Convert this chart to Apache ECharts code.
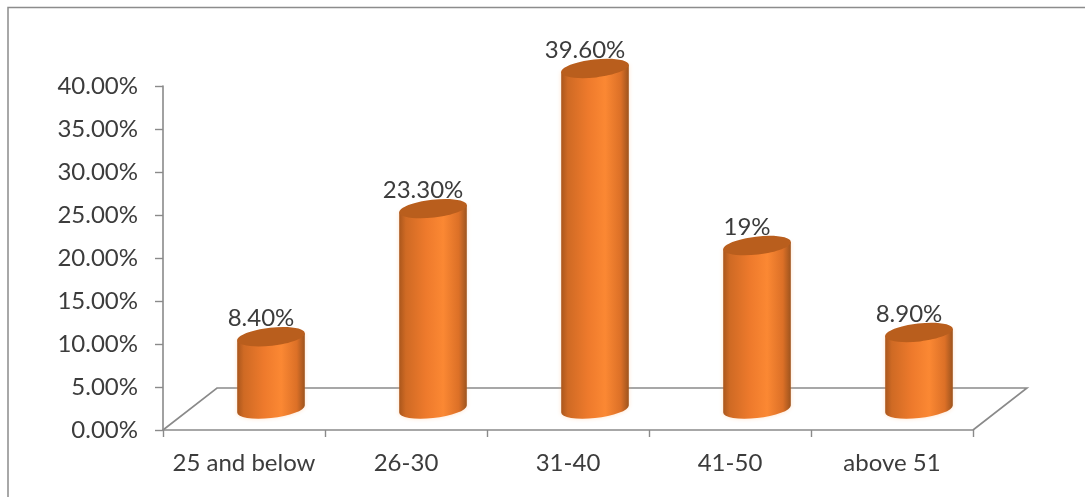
<!DOCTYPE html>
<html>
<head>
<meta charset="utf-8">
<style>html,body{margin:0;padding:0;background:#fff}#chart{width:1085px;height:497px}</style>
<script src="https://cdn.jsdelivr.net/npm/echarts@6/dist/echarts.min.js"></script>
</head>
<body>
<div id="chart"></div>
<script>
// Respondents by age group
const categories = ['25 and below', '26-30', '31-40', '41-50', 'above 51'];
const values = [8.4, 23.3, 39.6, 19, 8.9];
const valueLabels = ['8.40%', '23.30%', '39.60%', '19%', '8.90%'];

const chart = echarts.init(document.getElementById('chart'));
const FONT = 'Lato';
const TEXT = '#3c3c3c';
const AXIS = '#8a8a8a';
// Floor depth of the pseudo-3D plot
const DEPTH_X = 54, DEPTH_Y = 42;
// Cylinder end caps: tilted ellipses
const R_X = 34, R_Y = 9, TILT_DEG = 6.5;
const TILT = TILT_DEG * Math.PI / 180;
const EDGE_X = Math.sqrt(R_X * R_X * Math.cos(TILT) ** 2 + R_Y * R_Y * Math.sin(TILT) ** 2);
const EDGE_Y = (R_X * R_X - R_Y * R_Y) * Math.sin(TILT) * Math.cos(TILT) / EDGE_X;

function bodyGradient() {
  return new echarts.graphic.LinearGradient(0, 0, 1, 0, [
    { offset: 0, color: '#a9561c' },
    { offset: 0.1, color: '#cf6a24' },
    { offset: 0.4, color: '#ee7a2c' },
    { offset: 0.65, color: '#fb8833' },
    { offset: 0.88, color: '#dc7027' },
    { offset: 1, color: '#9c531d' }
  ]);
}

function renderCylinder(params, api) {
  const base = api.coord([api.value(0), 0]);
  const top = api.coord([api.value(0), api.value(1)]);
  const cx = base[0] + DEPTH_X / 2;
  const by = base[1] - DEPTH_Y / 2;
  const ty = top[1] - DEPTH_Y / 2;
  const body = `M${cx - EDGE_X} ${ty + EDGE_Y} L${cx - EDGE_X} ${by + EDGE_Y}`
    + ` A${R_X} ${R_Y} ${-TILT_DEG} 0 0 ${cx + EDGE_X} ${by - EDGE_Y}`
    + ` L${cx + EDGE_X} ${ty - EDGE_Y} Z`;
  return {
    type: 'group',
    children: [
      {
        type: 'path',
        shape: { pathData: body },
        style: { fill: bodyGradient(), shadowBlur: 4, shadowColor: 'rgba(255,170,100,0.35)' }
      },
      {
        type: 'ellipse',
        x: cx,
        y: ty,
        rotation: TILT,
        shape: { cx: 0, cy: 0, rx: R_X, ry: R_Y },
        style: { fill: '#b95e1d' }
      },
      {
        type: 'text',
        style: {
          text: valueLabels[params.dataIndex],
          x: cx - 10,
          y: ty - 18,
          align: 'center',
          verticalAlign: 'middle',
          fill: TEXT,
          font: `24px ${FONT}`
        }
      }
    ]
  };
}

function renderFloor(params) {
  const c = params.coordSys;
  const l = c.x, r = c.x + c.width, b = c.y + c.height;
  return {
    type: 'polyline',
    shape: {
      points: [[l, b], [l + DEPTH_X, b - DEPTH_Y], [r + DEPTH_X, b - DEPTH_Y], [r, b]]
    },
    style: { fill: 'none', stroke: AXIS, lineWidth: 1.6 }
  };
}

chart.setOption({
  animation: false,
  backgroundColor: '#fff',
  grid: { left: 163, top: 86, width: 810, height: 344 },
  xAxis: {
    type: 'category',
    data: categories,
    axisLine: { lineStyle: { color: AXIS, width: 1.6 } },
    axisTick: { show: true, interval: 0, alignWithLabel: false, length: 7, lineStyle: { color: AXIS, width: 1.4 } },
    axisLabel: { color: TEXT, fontFamily: FONT, fontSize: 24, margin: 21, interval: 0 }
  },
  yAxis: {
    type: 'value',
    min: 0,
    max: 40,
    interval: 5,
    axisLine: { show: true, lineStyle: { color: AXIS, width: 1.6 } },
    axisTick: { show: true, length: 8, lineStyle: { color: AXIS, width: 1.4 } },
    splitLine: { show: false },
    axisLabel: {
      color: TEXT, fontFamily: FONT, fontSize: 24, margin: 25,
      formatter: v => v.toFixed(2) + '%'
    }
  },
  graphic: [{
    type: 'polyline',
    shape: { points: [[8, 497], [8, 7.5], [1085, 7.5]] },
    style: { fill: 'none', stroke: '#8c8c8c', lineWidth: 1.5 },
    silent: true
  }],
  series: [
    {
      type: 'custom',
      clip: false,
      z: 1,
      renderItem: renderFloor,
      data: [[0, 0]],
      encode: { x: 0, y: 1 }
    },
    {
      type: 'custom',
      clip: false,
      z: 3,
      renderItem: renderCylinder,
      data: values.map((v, i) => [i, v]),
      encode: { x: 0, y: 1 }
    }
  ]
});
</script>
</body>
</html>
